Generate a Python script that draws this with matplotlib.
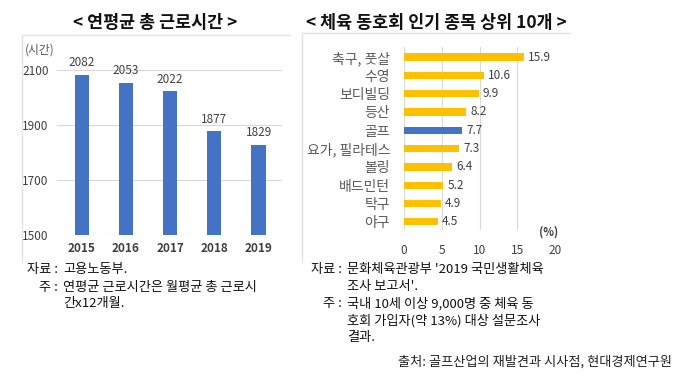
import matplotlib
matplotlib.use("Agg")
import matplotlib.pyplot as plt
from matplotlib.lines import Line2D

plt.rcParams['font.family'] = ['Noto Sans CJK KR', 'DejaVu Sans']

# ---- data ----
years = ["2015", "2016", "2017", "2018", "2019"]
hours = [2082, 2053, 2022, 1877, 1829]
hour_ticks = [1500, 1700, 1900, 2100]

sports = ["축구, 풋살", "수영", "보디빌딩", "등산", "골프", "요가, 필라테스", "볼링", "배드민턴", "탁구", "야구"]
shares = [15.9, 10.6, 9.9, 8.2, 7.7, 7.3, 6.4, 5.2, 4.9, 4.5]
share_ticks = [0, 5, 10, 15, 20]
highlight = "골프"

title_left = "< 연평균 총 근로시간 >"
title_right = "< 체육 동호회 인기 종목 상위 10개 >"

BLUE = "#4472C4"
GOLD = "#FFC000"
GRID = "#d9d9d9"
TXT = "#404040"

W, H = 680, 384
fig = plt.figure(figsize=(W / 100, H / 100), dpi=100)

def fx(x):
    return x / W

def fy(y):
    return 1 - y / H

# panel borders
for (x0, x1, y0, y1) in [(22, 290, 35, 262), (302, 570, 33, 262)]:
    fig.add_artist(Line2D([fx(x0), fx(x1)], [fy(y0), fy(y0)], color="#e3e3e3", lw=1))
    fig.add_artist(Line2D([fx(x0), fx(x0)], [fy(y0), fy(y1)], color="#e3e3e3", lw=1))

# titles
fig.text(fx(155), fy(23), title_left, ha="center", va="center", fontsize=12.5, fontweight="bold", color="#111111")
fig.text(fx(436), fy(23), title_right, ha="center", va="center", fontsize=12.5, fontweight="bold", color="#111111")

# ---- left chart ----
axL = fig.add_axes([fx(57), fy(235), fx(282) - fx(57), fy(70) - fy(235)])
xs = list(range(len(years)))
axL.bar(xs, hours, width=0.32, color=BLUE, zorder=3)
axL.set_ylim(1500, 2100)
axL.set_xlim(-0.56, 4.53)
axL.set_yticks(hour_ticks)
axL.set_yticklabels([str(t) for t in hour_ticks])
axL.set_xticks(xs)
axL.set_xticklabels(years)
axL.grid(axis="y", color=GRID, lw=0.8, zorder=0)
axL.tick_params(axis="both", length=0, labelsize=8.5, colors=TXT)
axL.tick_params(axis="y", pad=6)
axL.tick_params(axis="x", pad=5)
for lab in axL.get_xticklabels():
    lab.set_fontweight("bold")
for s in axL.spines.values():
    s.set_visible(False)
for x, v in zip(xs, hours):
    axL.annotate(str(v), (x, v), xytext=(0, 4), textcoords="offset points",
                 ha="center", va="bottom", fontsize=8.5, color=TXT, annotation_clip=False)
fig.text(fx(25), fy(50), "(시간)", ha="left", va="center", fontsize=8.5, color="#595959")

# ---- right chart ----
axR = fig.add_axes([fx(404), fy(230), fx(555) - fx(404), fy(47) - fy(230)])
ys = list(range(len(sports)))
colors = [BLUE if s == highlight else GOLD for s in sports]
axR.barh(ys, shares, height=0.4, color=colors, zorder=3)
axR.set_ylim(9.45, -0.55)
axR.set_xlim(0, 20)
axR.set_xticks(share_ticks)
axR.set_yticks(ys)
axR.set_yticklabels(sports)
axR.grid(axis="x", color=GRID, lw=0.8, zorder=0)
axR.tick_params(axis="both", length=0, labelsize=8.5, colors=TXT)
axR.tick_params(axis="y", pad=10, labelsize=10, colors="#595959")
axR.tick_params(axis="x", pad=10)
for s in axR.spines.values():
    s.set_visible(False)
for y, v in zip(ys, shares):
    axR.annotate(f"{v:.1f}", (v, y), xytext=(3, 0), textcoords="offset points",
                 ha="left", va="center", fontsize=8.5, color=TXT, annotation_clip=False)
fig.text(fx(549), fy(232), "(%)", ha="center", va="center", fontsize=8, color=TXT, fontweight="bold")

# ---- notes ----
NFS = 9.5
def note(xc, y, label, lines):
    fig.text(fx(xc), fy(y), label + " :", ha="right", va="center", fontsize=NFS, color="#111111")
    for i, ln in enumerate(lines):
        fig.text(fx(xc + 5), fy(y + i * 16.7), ln, ha="left", va="center", fontsize=NFS, color="#111111")

note(58, 270, "자료", ["고용노동부."])
note(58, 287, "주", ["연평균 근로시간은 월평균 총 근로시", "간x12개월."])
note(342, 270, "자료", ["문화체육관광부 '2019 국민생활체육", "조사 보고서'."])
note(342, 304, "주", ["국내 10세 이상 9,000명 중 체육 동", "호회 가입자(약 13%) 대상 설문조사", "결과."])

fig.text(fx(672), fy(362), "출처: 골프산업의 재발견과 시사점, 현대경제연구원", ha="right", va="center",
         fontsize=9.5, color="#222222")

fig.savefig("out.png", dpi=100)
